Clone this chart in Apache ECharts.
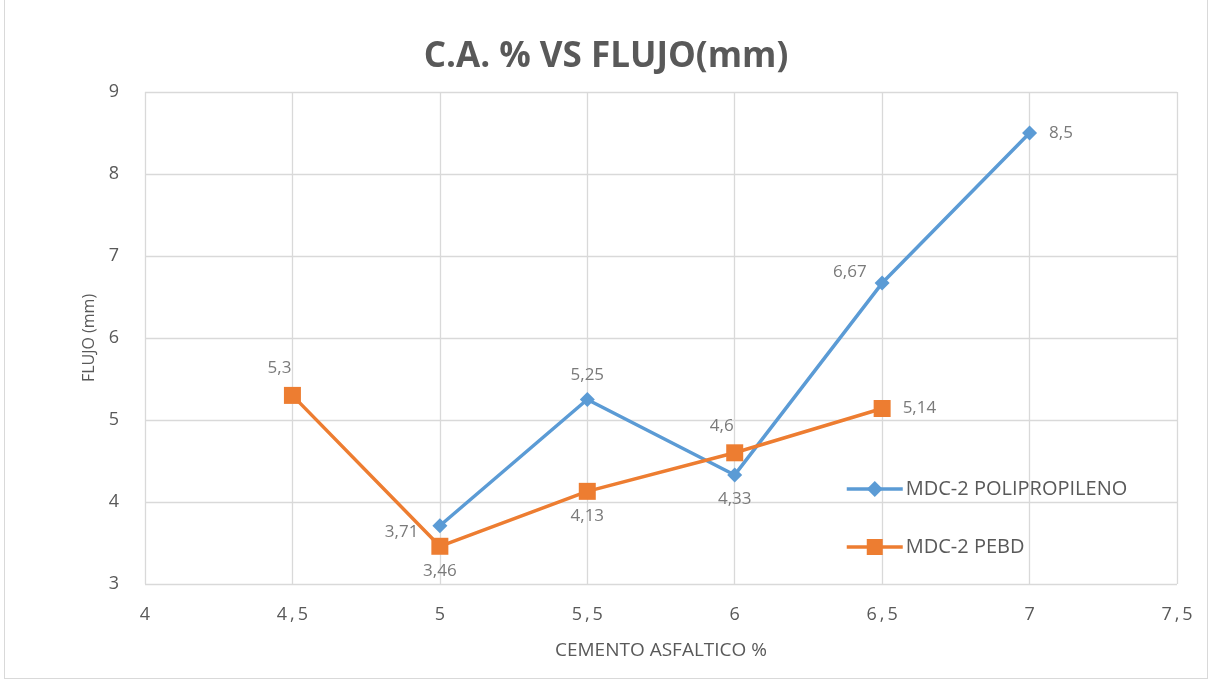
<!DOCTYPE html>
<html><head><meta charset="utf-8">
<script src="https://cdn.jsdelivr.net/npm/echarts@6/dist/echarts.min.js"></script>
<style>html,body{margin:0;padding:0;background:#fff}
#c{position:absolute;left:0;top:0;width:1212px;height:683px}
#b{position:absolute;left:4px;top:-2px;width:1204px;height:681px;border:1px solid #d9d9d9;box-sizing:border-box;pointer-events:none}</style>
</head><body><div id="c"></div><div id="b"></div>
<script>
const ppX = [5, 5.5, 6, 6.5, 7];
const ppY = [3.71, 5.25, 4.33, 6.67, 8.5];
const pebdX = [4.5, 5, 5.5, 6, 6.5];
const pebdY = [5.3, 3.46, 4.13, 4.6, 5.14];
const ppLabelPos = ['left', 'top', 'bottom', 'upleft', 'right'];
const pebdLabelPos = ['topleft', 'bottom', 'bottom', 'topleft', 'right'];
const seriesNames = ['MDC-2 POLIPROPILENO', 'MDC-2 PEBD'];
const titleText = 'C.A. % VS FLUJO(mm)';
const xName = 'CEMENTO ASFALTICO %';
const yName = 'FLUJO (mm)';

const FONT = '"Open Sans", "Noto Sans", sans-serif';
const fmt = v => String(v).replace('.', ',');
function labelCfg(pos) {
  if (pos === 'topleft') return {position: 'top', distance: 10, offset: [-13, 0]};
  if (pos === 'left') return {position: 'left', distance: 14, offset: [0, 6]};
  if (pos === 'upleft') return {position: 'left', distance: 8, offset: [0, -11]};
  if (pos === 'right') return {position: 'right', distance: 12};
  if (pos === 'bottom') return {position: 'bottom', distance: 8};
  return {position: 'top', distance: 8};
}
function mk(xs, ys, pos) {
  return xs.map((x, i) => ({value: [x, ys[i]], label: labelCfg(pos[i])}));
}
const chart = echarts.init(document.getElementById('c'));
chart.setOption({
  animation: false,
  title: {text: titleText, left: 'center', top: 35,
    textStyle: {fontFamily: FONT, fontSize: 35, fontWeight: 'bold', color: '#595959'}},
  grid: {left: 145, right: 35, top: 92, bottom: 99},
  legend: {orient: 'vertical', left: 840, top: 474, itemGap: 38, itemWidth: 56, itemHeight: 20,
    lineStyle: {width: 3.5},
    textStyle: {fontFamily: FONT, fontSize: 20, color: '#595959', padding: [0, 0, 0, -2]},
    data: seriesNames},
  xAxis: {type: 'value', min: 4, max: 7.5, interval: 0.5,
    name: xName, nameLocation: 'middle', nameGap: 57,
    nameTextStyle: {fontFamily: FONT, fontSize: 19, color: '#595959'},
    axisLine: {show: false}, axisTick: {show: false},
    splitLine: {lineStyle: {color: '#d9d9d9', width: 1.3}},
    axisLabel: {fontFamily: FONT, fontSize: 18, color: '#595959', margin: 22,
      formatter: v => String(v).replace('.', '\u2009,\u2009')}},
  yAxis: {type: 'value', min: 3, max: 9, interval: 1,
    name: yName, nameLocation: 'middle', nameGap: 44,
    nameTextStyle: {fontFamily: FONT, fontSize: 16, color: '#595959'},
    axisLine: {show: false}, axisTick: {show: false},
    splitLine: {lineStyle: {color: '#d9d9d9', width: 1.3}},
    axisLabel: {fontFamily: FONT, fontSize: 18, color: '#595959', margin: 26}},
  series: [
    {name: seriesNames[0], type: 'line', data: mk(ppX, ppY, ppLabelPos),
      symbol: 'diamond', symbolSize: 15, color: '#5B9BD5',
      lineStyle: {width: 3.5, color: '#5B9BD5'},
      label: {show: true, fontFamily: FONT, fontSize: 17, color: '#7a7a7a',
        formatter: p => fmt(p.value[1])}},
    {name: seriesNames[1], type: 'line', data: mk(pebdX, pebdY, pebdLabelPos),
      symbol: 'rect', symbolSize: 17, color: '#ED7D31',
      lineStyle: {width: 3.5, color: '#ED7D31'},
      label: {show: true, fontFamily: FONT, fontSize: 17, color: '#7a7a7a',
        formatter: p => fmt(p.value[1])}}
  ]
});
</script></body></html>
